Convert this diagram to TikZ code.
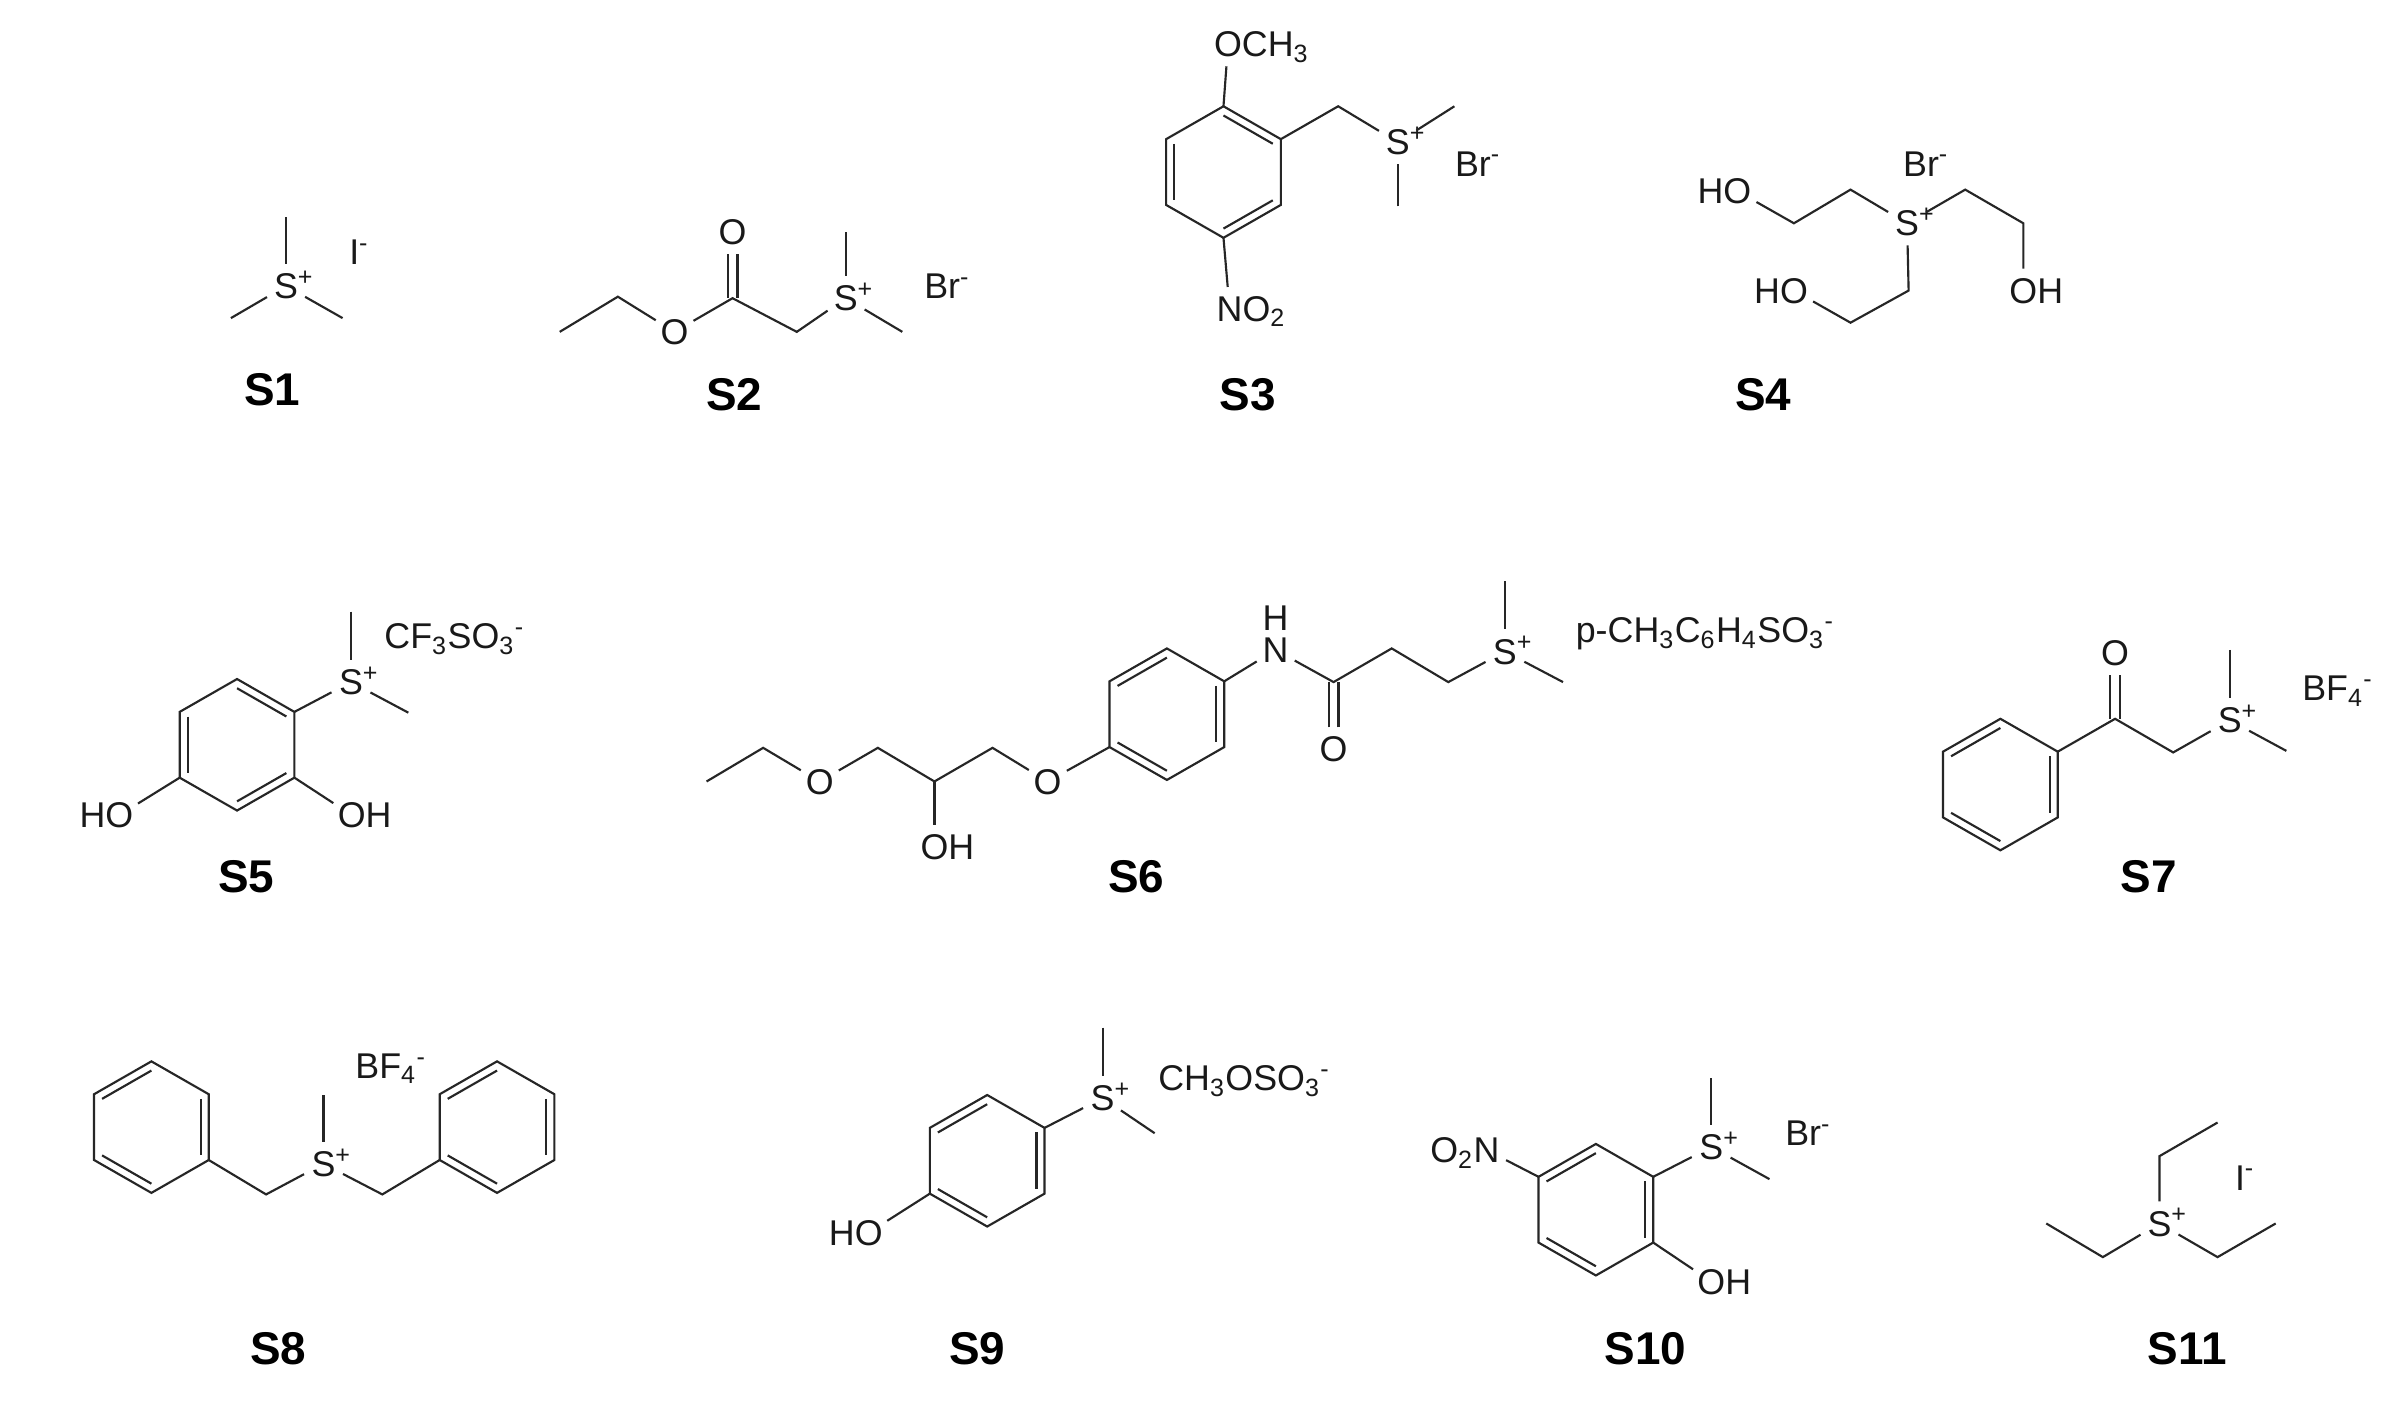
\documentclass[tikz,border=0pt]{standalone}
\usepackage{fontspec}
\setmainfont{Liberation Sans}
\usetikzlibrary{calc}
\tikzset{
  bond/.style={draw=black!85,line width=0.7pt,line join=miter},
  atom/.style={circle,inner sep=0pt,minimum size=14pt,text height=8.2pt,text depth=0pt,
     font=\fontsize{11.7}{14}\selectfont,text=black!90},
  ion/.style={anchor=west,inner sep=0pt,text height=8.2pt,text depth=0pt,
     font=\fontsize{11.7}{14}\selectfont,text=black!90},
  tag/.style={inner sep=0pt,font=\fontsize{15}{18}\selectfont\bfseries,text=black}
}
\newcommand{\Sp}{S\rlap{\textsuperscript{+}}}
\newcommand{\OHr}{O\rlap{H}}
\newcommand{\HOl}{\llap{H}O}
% hexagon: prefix, centre x, centre y
\newcommand{\benz}[3]{%
  \coordinate (#1C) at (#2,#3);
  \coordinate (#1T) at (#2,#3-43);
  \coordinate (#1B) at (#2,#3+43);
  \coordinate (#1UR) at (#2+37.5,#3-21.5);
  \coordinate (#1LR) at (#2+37.5,#3+21.5);
  \coordinate (#1UL) at (#2-37.5,#3-21.5);
  \coordinate (#1LL) at (#2-37.5,#3+21.5);
  \draw[bond] (#1T) -- (#1UR) -- (#1LR) -- (#1B) -- (#1LL) -- (#1UL) -- cycle;
}
% inner line of a ring double bond
\newcommand{\inner}[3]{\draw[bond] ($(#1#2)!.14!(#1C)$) -- ($(#1#3)!.14!(#1C)$);}
% carbonyl
\newcommand{\carbonyl}[2]{%
  \draw[bond] ([xshift=-1.6pt]#1.south) -- ([xshift=-1.6pt]#2);
  \draw[bond] ([xshift=1.6pt]#1.south) -- ([xshift=1.6pt]#2);
}
\newcommand{\carbonyld}[2]{%
  \draw[bond] ([xshift=-1.6pt]#1.north) -- ([xshift=-1.6pt]#2);
  \draw[bond] ([xshift=1.6pt]#1.north) -- ([xshift=1.6pt]#2);
}
\begin{document}
\begin{tikzpicture}[x=0.5pt,y=-0.5pt]
\useasboundingbox (0,0) rectangle (1568,918.7);
\fill[white] (0,0) rectangle (1568,918.7);

% S1
\node[atom] (a1S) at (187,187) {\Sp};
\coordinate (a1t) at (187,142);
\coordinate (a1l) at (151,208);
\coordinate (a1r) at (224,208);
\draw[bond] (a1t) -- (a1S);
\draw[bond] (a1l) -- (a1S);
\draw[bond] (a1r) -- (a1S);
\node[ion] (a1I) at (228,165) {I\textsuperscript{-}};
\node[tag] (a1n) at (178,255) {S1};

% S2
\coordinate (a2a) at (366,217);
\coordinate (a2b) at (404,194);
\node[atom] (a2O) at (441,217) {O};
\coordinate (a2C) at (479,195);
\node[atom] (a2Ot) at (479,152) {O};
\coordinate (a2D) at (521,217);
\node[atom] (a2S) at (553,195) {\Sp};
\coordinate (a2t) at (553,152);
\coordinate (a2r) at (590,217);
\draw[bond] (a2a) -- (a2b) -- (a2O);
\draw[bond] (a2O) -- (a2C) -- (a2D) -- (a2S);
\carbonyl{a2Ot}{a2C}
\draw[bond] (a2t) -- (a2S);
\draw[bond] (a2r) -- (a2S);
\node[ion] (a2I) at (604,187) {Br\textsuperscript{-}};
\node[tag] (a2n) at (480,258) {S2};

% S3
\benz{a3}{800}{112.5}
\inner{a3}{T}{UR}\inner{a3}{UL}{LL}\inner{a3}{LR}{B}
\node[atom] (a3O) at (803,29) {O\rlap{CH\textsubscript{3}}};
\node[atom] (a3N) at (804,202) {N\rlap{O\textsubscript{2}}};
\coordinate (a3c) at (875,69.5);
\node[atom] (a3S) at (914,93) {\Sp};
\coordinate (a3u) at (951,69.5);
\coordinate (a3d) at (914,135);
\draw[bond] (a3T) -- (a3O);
\draw[bond] (a3B) -- (a3N);
\draw[bond] (a3UR) -- (a3c) -- (a3S);
\draw[bond] (a3u) -- (a3S);
\draw[bond] (a3d) -- (a3S);
\node[ion] (a3I) at (951,107) {Br\textsuperscript{-}};
\node[tag] (a3n) at (816,258) {S3};

% S4
\node[atom] (a4S) at (1247,146) {\Sp};
\node[atom] (a4O1) at (1136,125) {\HOl};
\coordinate (a4a) at (1173,146);
\coordinate (a4b) at (1210,124);
\coordinate (a4c) at (1285,124);
\coordinate (a4d) at (1323,146);
\node[atom] (a4O2) at (1323,190) {\OHr};
\coordinate (a4e) at (1248,190);
\coordinate (a4f) at (1210,211);
\node[atom] (a4O3) at (1173,190) {\HOl};
\draw[bond] (a4O1) -- (a4a) -- (a4b) -- (a4S);
\draw[bond] (a4S) -- (a4c) -- (a4d) -- (a4O2);
\draw[bond] (a4S) -- (a4e) -- (a4f) -- (a4O3);
\node[ion] (a4I) at (1244,107) {Br\textsuperscript{-}};
\node[tag] (a4n) at (1153,258) {S4};

% S5
\benz{a5}{155}{487}
\inner{a5}{T}{UR}\inner{a5}{UL}{LL}\inner{a5}{LR}{B}
\node[atom] (a5S) at (229.5,446) {\Sp};
\coordinate (a5t) at (229.5,400);
\coordinate (a5r) at (267,466);
\node[atom] (a5H1) at (78,533) {\HOl};
\node[atom] (a5H2) at (230,533) {\OHr};
\draw[bond] (a5UR) -- (a5S);
\draw[bond] (a5t) -- (a5S);
\draw[bond] (a5r) -- (a5S);
\draw[bond] (a5LL) -- (a5H1);
\draw[bond] (a5LR) -- (a5H2);
\node[ion] (a5I) at (251,416) {CF\textsubscript{3}SO\textsubscript{3}\textsuperscript{-}};
\node[tag] (a5n) at (161,573) {S5};

% S6
\coordinate (a6a) at (462,511);
\coordinate (a6b) at (499,489);
\node[atom] (a6O1) at (536,511) {O};
\coordinate (a6c) at (574,489);
\coordinate (a6d) at (611,511);
\coordinate (a6e) at (649,489);
\node[atom] (a6O2) at (685,511) {O};
\node[atom] (a6OH) at (611,554) {\OHr};
\benz{a6}{763}{467}
\inner{a6}{UL}{T}\inner{a6}{UR}{LR}\inner{a6}{LL}{B}
\node[atom] (a6N) at (834,425) {N};
\node[atom] (a6H) at (834,404) {H};
\coordinate (a6C) at (872,446);
\node[atom] (a6Oc) at (872,490) {O};
\coordinate (a6f) at (910,424);
\coordinate (a6g) at (947,446);
\node[atom] (a6S) at (984,426) {\Sp};
\coordinate (a6t) at (984,380);
\coordinate (a6r) at (1022,446);
\draw[bond] (a6a) -- (a6b) -- (a6O1);
\draw[bond] (a6O1) -- (a6c) -- (a6d) -- (a6e) -- (a6O2);
\draw[bond] (a6d) -- (a6OH);
\draw[bond] (a6O2) -- (a6LL);
\draw[bond] (a6UR) -- (a6N);
\draw[bond] (a6N) -- (a6C) -- (a6f) -- (a6g) -- (a6S);
\carbonyld{a6Oc}{a6C}
\draw[bond] (a6t) -- (a6S);
\draw[bond] (a6r) -- (a6S);
\node[ion] (a6I) at (1030,412) {p-CH\textsubscript{3}C\textsubscript{6}H\textsubscript{4}SO\textsubscript{3}\textsuperscript{-}};
\node[tag] (a6n) at (743,573) {S6};

% S7
\benz{a7}{1308}{513}
\inner{a7}{T}{UL}\inner{a7}{UR}{LR}\inner{a7}{LL}{B}
\coordinate (a7C) at (1383,470);
\node[atom] (a7O) at (1383,427) {O};
\coordinate (a7D) at (1421,492);
\node[atom] (a7S) at (1458,471) {\Sp};
\coordinate (a7t) at (1458,425);
\coordinate (a7r) at (1495,491);
\draw[bond] (a7UR) -- (a7C) -- (a7D) -- (a7S);
\carbonyl{a7O}{a7C}
\draw[bond] (a7t) -- (a7S);
\draw[bond] (a7r) -- (a7S);
\node[ion] (a7I) at (1505,450) {BF\textsubscript{4}\textsuperscript{-}};
\node[tag] (a7n) at (1405,573) {S7};

% S8
\benz{a8}{99}{737}
\inner{a8}{T}{UL}\inner{a8}{UR}{LR}\inner{a8}{LL}{B}
\benz{b8}{325}{737}
\inner{b8}{T}{UL}\inner{b8}{UR}{LR}\inner{b8}{LL}{B}
\coordinate (a8c) at (174,781);
\node[atom] (a8S) at (211.5,761) {\Sp};
\coordinate (a8d) at (250,781);
\coordinate (a8t) at (211.5,716);
\draw[bond] (a8LR) -- (a8c) -- (a8S);
\draw[bond] (a8S) -- (a8d) -- (b8LL);
\draw[bond] (a8t) -- (a8S);
\node[ion] (a8I) at (232,697) {BF\textsubscript{4}\textsuperscript{-}};
\node[tag] (a8n) at (182,882) {S8};

% S9
\benz{a9}{645.5}{759}
\inner{a9}{UL}{T}\inner{a9}{UR}{LR}\inner{a9}{LL}{B}
\node[atom] (a9S) at (721,718) {\Sp};
\coordinate (a9t) at (721,672);
\coordinate (a9r) at (755,741);
\node[atom] (a9O) at (568,806) {\HOl};
\draw[bond] (a9UR) -- (a9S);
\draw[bond] (a9t) -- (a9S);
\draw[bond] (a9r) -- (a9S);
\draw[bond] (a9LL) -- (a9O);
\node[ion] (a9I) at (757,705) {CH\textsubscript{3}OSO\textsubscript{3}\textsuperscript{-}};
\node[tag] (a9n) at (639,882) {S9};

% S10
\benz{a10}{1043.5}{791}
\inner{a10}{UL}{T}\inner{a10}{UR}{LR}\inner{a10}{LL}{B}
\node[atom] (a10S) at (1119,750) {\Sp};
\coordinate (a10t) at (1119,705);
\coordinate (a10r) at (1157,771);
\node[atom] (a10N) at (972,752) {\llap{O\textsubscript{2}}N};
\node[atom] (a10O) at (1119,838) {\OHr};
\draw[bond] (a10UR) -- (a10S);
\draw[bond] (a10t) -- (a10S);
\draw[bond] (a10r) -- (a10S);
\draw[bond] (a10UL) -- (a10N);
\draw[bond] (a10LR) -- (a10O);
\node[ion] (a10I) at (1167,741) {Br\textsuperscript{-}};
\node[tag] (a10n) at (1076,882) {S10};

% S11
\node[atom] (a11S) at (1412,800) {\Sp};
\coordinate (a11a) at (1412,756);
\coordinate (a11b) at (1450,734);
\coordinate (a11c) at (1375,822);
\coordinate (a11d) at (1338,800);
\coordinate (a11e) at (1450,822);
\coordinate (a11f) at (1488,800);
\draw[bond] (a11b) -- (a11a) -- (a11S);
\draw[bond] (a11d) -- (a11c) -- (a11S);
\draw[bond] (a11f) -- (a11e) -- (a11S);
\node[ion] (a11I) at (1461,770) {I\textsuperscript{-}};
\node[tag] (a11n) at (1430,882) {S11};
\end{tikzpicture}
\end{document}
